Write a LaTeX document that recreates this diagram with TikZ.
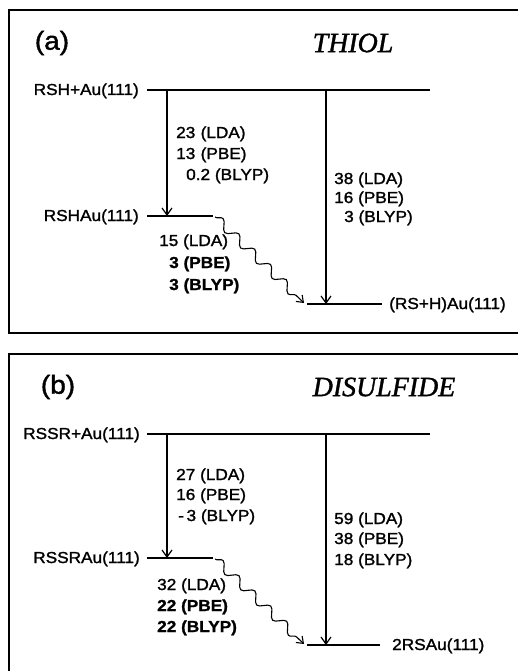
\documentclass[tikz,border=0pt]{standalone}
\usepackage{fontspec}
\setmainfont{Liberation Sans}
\newfontfamily\labfont[FakeStretch=1.08,UprightFeatures={FakeBold=1.5},BoldFeatures={FakeBold=1.2}]{Liberation Sans}
\newfontfamily\titfont[ItalicFeatures={FakeBold=1.2}]{Liberation Serif}
\usetikzlibrary{arrows.meta,decorations.pathmorphing}
\begin{document}
\begin{tikzpicture}[x=1bp,y=-1bp,
  lab/.style={inner sep=0pt,anchor=base west,font=\labfont\fontsize{16}{19}\selectfont},
  labr/.style={lab,anchor=base east},
  blab/.style={lab,font=\labfont\bfseries\fontsize{16}{19}\selectfont},
  panel/.style={inner sep=0pt,font=\labfont\fontsize{26}{30}\selectfont},
  ttl/.style={inner sep=0pt,font=\titfont\itshape\fontsize{28}{32}\selectfont},
  frame/.style={line width=1.8bp},
  level/.style={line width=1.2bp},
  arr/.style={line width=1.2bp,-{Straight Barb[length=7bp,width=10bp,line width=1.2bp]}},
  wavy/.style={line width=1.1bp,decorate,decoration={snake,amplitude=4.5bp,segment length=22bp,post length=6bp},
     -{Straight Barb[length=6bp,width=9bp,line width=1.1bp]}}]
\useasboundingbox (0,0) rectangle (518,671);
% frames
\draw[frame] (9,10) rectangle (530,333);
\draw[frame] (9,690) -- (9,354) -- (530,354);

% ---------- panel (a)
\node[panel] (pa) at (52,43) {(a)};
\node[ttl] (ta) at (353,43) {THIOL};
\node[labr] (a1) at (139,95) {RSH+Au(111)};
\node[labr] (a2) at (139,221) {RSHAu(111)};
\node[lab] (a3) at (389,309) {(RS+H)Au(111)};
\coordinate (a1s) at (147,90);
\coordinate (a1e) at (430,90);
\coordinate (a2s) at (147,216);
\coordinate (a2e) at (213,216);
\coordinate (a3s) at (307,304);
\coordinate (a3e) at (382,304);
\draw[level] (a1s) -- (a1e);
\draw[level] (a2s) -- (a2e);
\draw[level] (a3s) -- (a3e);
\coordinate (aL1) at (167,90);
\coordinate (aL2) at (167,216);
\coordinate (aR1) at (326,90);
\coordinate (aR2) at (326,304);
\draw[arr] (aL1) -- (aL2);
\draw[arr] (aR1) -- (aR2);
\coordinate (aw1) at (215,217);
\coordinate (aw2) at (304,303);
\draw[wavy] (aw1) -- (aw2);
\node[lab] (a4) at (176,138) {23\,\,(LDA)};
\node[lab] (a5) at (176,159) {13\,\,(PBE)};
\node[lab] (a6) at (186,180) {0.2 (BLYP)};
\node[lab] (a7) at (334,184) {38 (LDA)};
\node[lab] (a8) at (334,203) {16 (PBE)};
\node[lab] (a9) at (344,222) {3 (BLYP)};
\node[lab] (a10) at (159,246) {15 (LDA)};
\node[blab] (a11) at (169,268) {3 (PBE)};
\node[blab] (a12) at (169,290) {3 (BLYP)};

% ---------- panel (b)
\node[panel] (pb) at (58,387) {(b)};
\node[ttl] (tb) at (384,387) {DISULFIDE};
\node[labr] (b1) at (140,439) {RSSR+Au(111)};
\node[labr] (b2) at (140,563) {RSSRAu(111)};
\node[lab] (b3) at (392,650) {2RSAu(111)};
\coordinate (b1s) at (147,434);
\coordinate (b1e) at (430,434);
\coordinate (b2s) at (147,558);
\coordinate (b2e) at (213,558);
\coordinate (b3s) at (307,645);
\coordinate (b3e) at (380,645);
\draw[level] (b1s) -- (b1e);
\draw[level] (b2s) -- (b2e);
\draw[level] (b3s) -- (b3e);
\coordinate (bL1) at (167,434);
\coordinate (bL2) at (167,558);
\coordinate (bR1) at (326,434);
\coordinate (bR2) at (326,645);
\draw[arr] (bL1) -- (bL2);
\draw[arr] (bR1) -- (bR2);
\coordinate (bw1) at (215,559);
\coordinate (bw2) at (304,644);
\draw[wavy] (bw1) -- (bw2);
\node[lab] (b4) at (176,480) {27 (LDA)};
\node[lab] (b5) at (176,500) {16 (PBE)};
\node[lab] (b6) at (178,521) {-\,3 (BLYP)};
\node[lab] (b7) at (334,524) {59 (LDA)};
\node[lab] (b8) at (334,544) {38 (PBE)};
\node[lab] (b9) at (334,565) {18 (BLYP)};
\node[lab] (b10) at (157,590) {32 (LDA)};
\node[blab] (b11) at (157,611) {22 (PBE)};
\node[blab] (b12) at (157,632) {22 (BLYP)};
\end{tikzpicture}
\end{document}
